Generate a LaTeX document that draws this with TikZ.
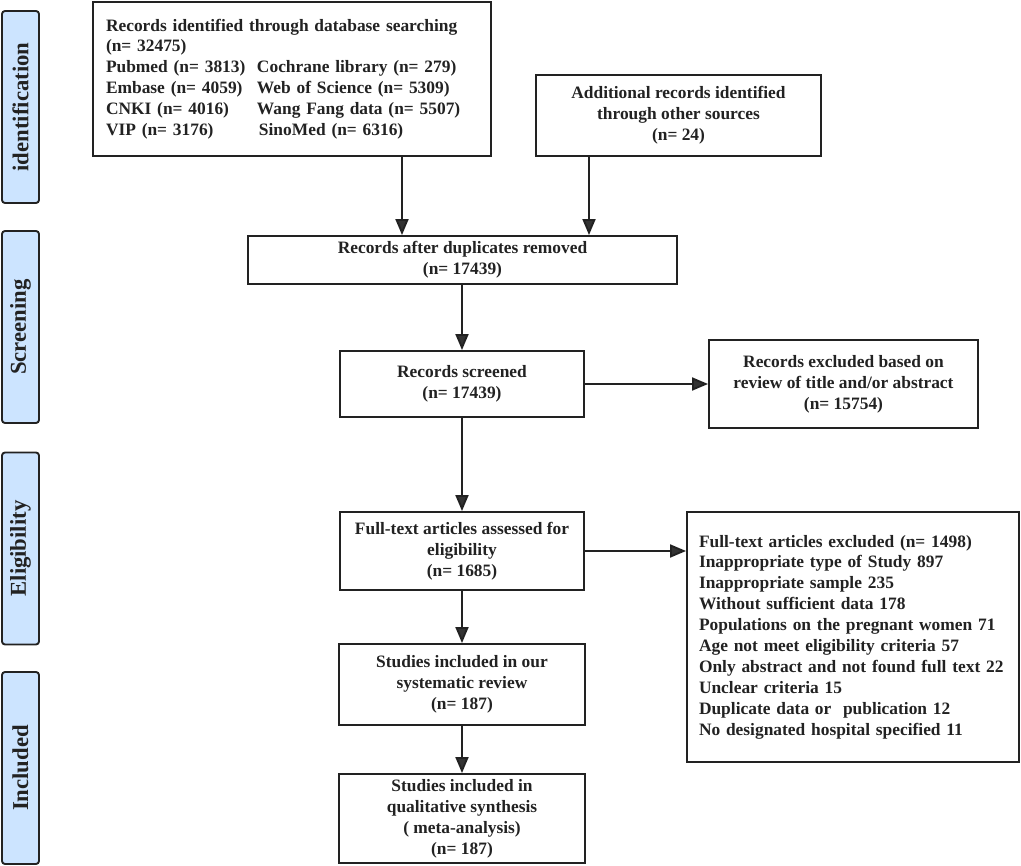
\documentclass[tikz,border=0pt]{standalone}
\usepackage{fontspec}
\setmainfont{Liberation Serif}
\usetikzlibrary{arrows.meta}
\definecolor{ink}{HTML}{222222}
\definecolor{tip}{HTML}{333333}
\definecolor{lbl}{HTML}{CCE4FF}
\begin{document}
\begin{tikzpicture}[x=1pt,y=-1pt,
  box/.style={draw=ink,line width=1.9pt,inner sep=0pt,text=ink,align=center,
    font=\bfseries\fontsize{17.4}{20.9}\selectfont},
  lab/.style={draw=ink,line width=1.9pt,fill=lbl,rounded corners=3pt,
    minimum width=192pt,minimum height=37pt,inner sep=0pt,rotate=90,text=ink,
    font=\bfseries\fontsize{22.7}{26}\selectfont},
  arr/.style={draw=ink,line width=1.9pt,-{Triangle[width=13pt,length=16pt,fill=tip]}}]
\useasboundingbox (0,0) rectangle (1021,866);

% stage labels
\node[lab] (l1) at (20.5,107) {identification};
\node[lab] (l2) at (20.5,327) {Screening};
\node[lab] (l3) at (20.5,548.5) {Eligibility};
\node[lab] (l4) at (20.5,768) {Included};

% boxes
\node[box,minimum width=398pt,minimum height=154pt,text width=372pt,align=left] (b1) at (292,79)
  {Records identified through database searching\\
   (n= 32475)\\
   \makebox[151pt][l]{Pubmed (n= 3813)}Cochrane library (n= 279)\\
   \makebox[151pt][l]{Embase (n= 4059)}Web of Science (n= 5309)\\
   \makebox[151pt][l]{CNKI (n= 4016)}Wang Fang data (n= 5507)\\
   \makebox[153pt][l]{VIP (n= 3176)}SinoMed (n= 6316)};
\node[box,minimum width=285pt,minimum height=81pt] (b2) at (678.5,115.5)
  {Additional records identified\\through other sources\\(n= 24)};
\node[box,minimum width=429pt,minimum height=48pt] (b3) at (462.5,260)
  {Records after duplicates removed\\(n= 17439)};
\node[box,minimum width=244pt,minimum height=66pt] (b4) at (462,384)
  {Records screened\\(n= 17439)};
\node[box,minimum width=269pt,minimum height=88pt] (b5) at (843.5,384)
  {Records excluded based on\\review of title and/or abstract\\(n= 15754)};
\node[box,minimum width=244pt,minimum height=78pt] (b6) at (462,551)
  {Full-text articles assessed for\\eligibility\\(n= 1685)};
\node[box,minimum width=332pt,minimum height=250pt,text width=308pt,align=left] (b7) at (853,637)
  {Full-text articles excluded (n= 1498)\\
   Inappropriate type of Study 897\\
   Inappropriate sample 235\\
   Without sufficient data 178\\
   Populations on the pregnant women 71\\
   Age not meet eligibility criteria 57\\
   Only abstract and not found full text 22\\
   Unclear criteria 15\\
   Duplicate data or\ \ publication 12\\
   No designated hospital specified 11};
\node[box,minimum width=246pt,minimum height=81pt] (b8) at (462,684.5)
  {Studies included in our\\systematic review\\(n= 187)};
\node[box,minimum width=246pt,minimum height=89pt] (b9) at (462,818.5)
  {Studies included in\\qualitative synthesis\\( meta-analysis)\\(n= 187)};

% connectors
\draw[arr] ([xshift=110pt]b1.south) -- ([xshift=110pt]b1.south |- b3.north);
\draw[arr] ([xshift=-89.5pt]b2.south) -- ([xshift=-89.5pt]b2.south |- b3.north);
\draw[arr] (b4.north |- b3.south) -- (b4.north);
\draw[arr] (b4.east) -- (b5.west);
\draw[arr] (b4.south) -- (b6.north);
\draw[arr] (b6.east) -- (b7.west |- b6.east);
\draw[arr] (b6.south) -- (b8.north);
\draw[arr] (b8.south) -- (b9.north);
\end{tikzpicture}
\end{document}
